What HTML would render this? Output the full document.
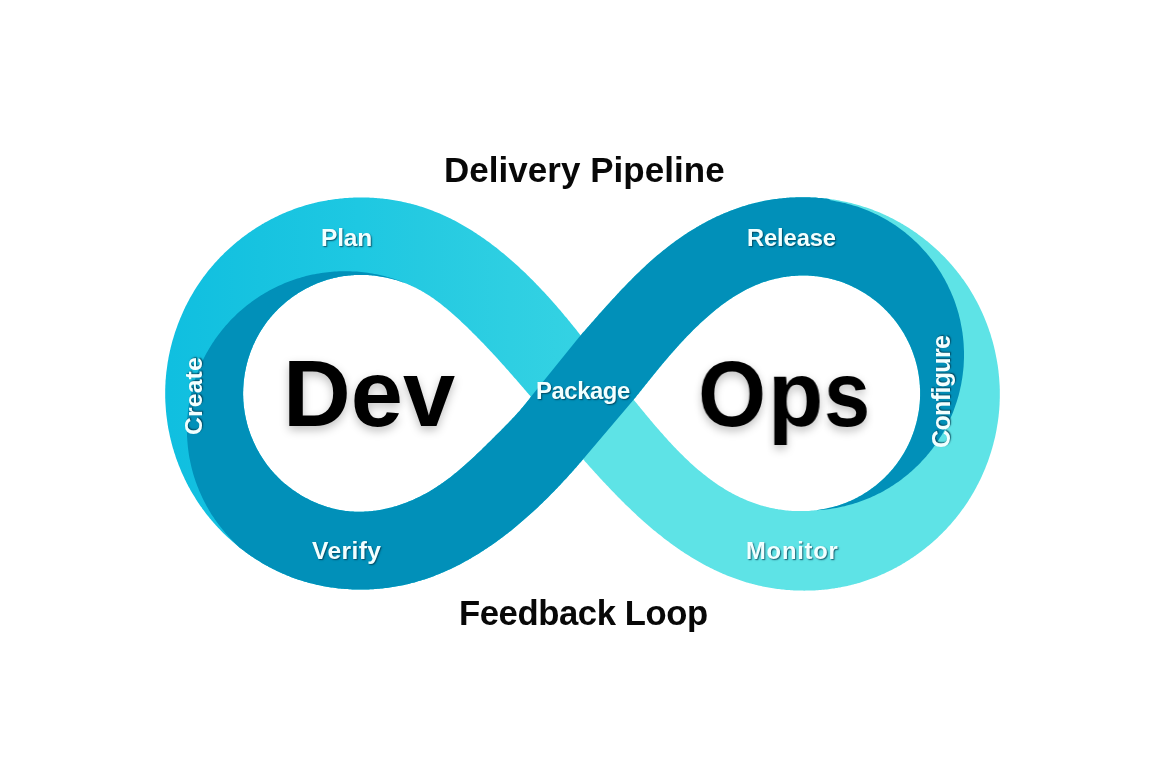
<!DOCTYPE html>
<html><head><meta charset="utf-8">
<style>
html,body{margin:0;padding:0;background:#fff;}
body{width:1152px;height:768px;position:relative;overflow:hidden;font-family:"Liberation Sans",sans-serif;}
svg{position:absolute;left:0;top:0;}
.t{position:absolute;white-space:nowrap;font-weight:bold;line-height:1;will-change:transform;}
.h{color:#080808;}
.big{color:#000;text-shadow:0 4px 10px rgba(0,0,0,0.25);}
.lb{color:#F2FFFF;text-shadow:1px 1px 1.5px rgba(0,55,75,0.8);}
.rot{transform-origin:0 0;transform:rotate(-90deg);}
</style></head><body>
<svg width="1152" height="768" viewBox="0 0 1152 768">
<defs>
<linearGradient id="gl" x1="170" y1="0" x2="580" y2="0" gradientUnits="userSpaceOnUse">
<stop offset="0" stop-color="#10BFE0"/><stop offset="0.22" stop-color="#17C3E0"/><stop offset="0.46" stop-color="#1EC8E2"/><stop offset="0.61" stop-color="#25CAE1"/><stop offset="0.83" stop-color="#2ECFE2"/><stop offset="1" stop-color="#34D2E3"/>
</linearGradient>
</defs>
<path d="M583.1,459.2 L584.1,460.3 L585.0,461.4 L586.0,462.5 L587.0,463.6 L588.0,464.7 L588.9,465.8 L589.9,466.9 L590.9,468.0 L591.9,469.1 L592.9,470.2 L593.9,471.3 L594.9,472.4 L595.9,473.5 L596.9,474.6 L597.9,475.7 L598.9,476.8 L599.9,477.9 L600.9,479.0 L601.9,480.1 L602.9,481.2 L603.9,482.2 L605.0,483.3 L606.0,484.4 L607.0,485.5 L608.1,486.6 L609.1,487.7 L610.1,488.8 L611.2,489.9 L612.2,491.0 L613.2,492.1 L614.3,493.1 L615.3,494.2 L616.4,495.3 L617.5,496.4 L618.5,497.5 L619.6,498.5 L620.6,499.6 L621.7,500.7 L622.8,501.7 L623.9,502.8 L624.9,503.9 L626.0,504.9 L627.1,506.0 L628.2,507.0 L629.3,508.1 L630.4,509.1 L631.5,510.2 L632.6,511.2 L633.7,512.3 L634.8,513.3 L635.9,514.3 L637.0,515.4 L638.1,516.4 L639.2,517.4 L640.4,518.4 L641.5,519.4 L642.6,520.5 L643.7,521.5 L644.9,522.5 L646.0,523.5 L647.2,524.5 L648.3,525.5 L649.5,526.4 L650.6,527.4 L651.8,528.4 L652.9,529.4 L654.1,530.4 L655.3,531.3 L656.4,532.3 L657.6,533.2 L658.8,534.2 L660.0,535.1 L661.2,536.1 L662.4,537.0 L663.5,537.9 L664.7,538.9 L665.9,539.8 L667.2,540.7 L668.4,541.6 L669.6,542.5 L670.8,543.4 L672.0,544.3 L673.2,545.2 L674.5,546.1 L675.7,546.9 L676.9,547.8 L678.2,548.7 L679.4,549.5 L680.7,550.4 L681.9,551.2 L683.2,552.1 L684.4,552.9 L685.7,553.7 L687.0,554.5 L688.2,555.3 L689.5,556.1 L690.8,556.9 L692.1,557.7 L693.4,558.5 L694.7,559.3 L696.0,560.0 L697.3,560.8 L698.6,561.5 L699.9,562.3 L701.2,563.0 L702.5,563.8 L703.8,564.5 L705.2,565.2 L706.5,565.9 L707.8,566.6 L709.2,567.3 L710.5,568.0 L711.8,568.6 L713.2,569.3 L714.5,569.9 L715.9,570.6 L717.3,571.2 L718.6,571.8 L720.0,572.5 L721.4,573.1 L722.7,573.7 L724.1,574.3 L725.5,574.8 L726.9,575.4 L728.3,576.0 L729.7,576.5 L731.1,577.1 L732.5,577.6 L733.9,578.1 L735.3,578.6 L736.7,579.1 L738.1,579.6 L739.5,580.1 L740.9,580.6 L742.4,581.0 L743.8,581.5 L745.2,581.9 L746.7,582.4 L748.1,582.8 L749.5,583.2 L751.0,583.6 L752.4,584.0 L753.9,584.3 L755.3,584.7 L756.8,585.1 L758.2,585.4 L759.7,585.7 L761.2,586.1 L762.6,586.4 L764.1,586.7 L765.6,587.0 L767.1,587.2 L768.5,587.5 L770.0,587.8 L771.5,588.0 L773.0,588.2 L774.4,588.5 L775.9,588.7 L777.4,588.9 L778.9,589.1 L780.4,589.3 L781.9,589.4 L783.4,589.6 L784.9,589.7 L786.4,589.9 L787.9,590.0 L789.4,590.1 L790.8,590.2 L792.3,590.3 L793.8,590.4 L795.3,590.5 L796.8,590.5 L798.3,590.6 L799.8,590.6 L801.3,590.6 L802.8,590.6 L804.3,590.7 L805.8,590.6 L807.3,590.6 L808.8,590.6 L810.3,590.6 L811.8,590.5 L813.3,590.4 L814.8,590.4 L816.3,590.3 L817.8,590.2 L819.3,590.1 L820.8,590.0 L822.3,589.8 L823.8,589.7 L825.3,589.5 L826.8,589.4 L828.3,589.2 L829.7,589.0 L831.2,588.8 L832.7,588.6 L834.2,588.4 L835.7,588.1 L837.2,587.9 L838.6,587.6 L840.1,587.4 L841.6,587.1 L843.0,586.8 L844.5,586.5 L846.0,586.2 L847.4,585.9 L848.9,585.5 L850.4,585.2 L851.8,584.8 L853.3,584.5 L854.7,584.1 L856.2,583.7 L857.6,583.3 L859.0,582.9 L860.5,582.4 L861.9,582.0 L863.3,581.5 L864.8,581.1 L866.2,580.6 L867.6,580.1 L869.0,579.6 L870.4,579.1 L871.9,578.6 L873.3,578.1 L874.7,577.5 L876.1,577.0 L877.4,576.4 L878.8,575.8 L880.2,575.2 L881.6,574.6 L883.0,574.0 L884.3,573.4 L885.7,572.8 L887.1,572.1 L888.4,571.5 L889.8,570.8 L891.1,570.2 L892.5,569.5 L893.8,568.8 L895.1,568.1 L896.5,567.4 L897.8,566.6 L899.1,565.9 L900.4,565.2 L901.7,564.4 L903.0,563.6 L904.3,562.9 L905.6,562.1 L906.9,561.3 L908.1,560.5 L909.4,559.7 L910.7,558.8 L911.9,558.0 L913.2,557.2 L914.4,556.3 L915.7,555.5 L916.9,554.6 L918.1,553.7 L919.3,552.8 L920.5,551.9 L921.8,551.0 L923.0,550.1 L924.1,549.2 L925.3,548.2 L926.5,547.3 L927.7,546.3 L928.8,545.4 L930.0,544.4 L931.1,543.4 L932.3,542.4 L933.4,541.4 L934.5,540.4 L935.7,539.4 L936.8,538.4 L937.9,537.4 L939.0,536.3 L940.1,535.3 L941.1,534.2 L942.2,533.2 L943.3,532.1 L944.3,531.0 L945.4,529.9 L946.4,528.9 L947.4,527.7 L948.5,526.6 L949.5,525.5 L950.5,524.4 L951.5,523.3 L952.5,522.1 L953.4,521.0 L954.4,519.8 L955.4,518.7 L956.3,517.5 L957.3,516.3 L958.2,515.1 L959.1,513.9 L960.0,512.7 L960.9,511.5 L961.8,510.3 L962.7,509.1 L963.6,507.9 L964.4,506.7 L965.3,505.4 L966.1,504.2 L967.0,502.9 L967.8,501.7 L968.6,500.4 L969.4,499.1 L970.2,497.9 L971.0,496.6 L971.8,495.3 L972.5,494.0 L973.3,492.7 L974.0,491.4 L974.8,490.1 L975.5,488.8 L976.2,487.4 L976.9,486.1 L977.6,484.8 L978.3,483.4 L979.0,482.1 L979.7,480.7 L980.3,479.4 L981.0,478.0 L981.6,476.7 L982.2,475.3 L982.8,473.9 L983.4,472.6 L984.0,471.2 L984.6,469.8 L985.2,468.4 L985.7,467.0 L986.3,465.6 L986.8,464.2 L987.4,462.8 L987.9,461.4 L988.4,460.0 L988.9,458.6 L989.4,457.1 L989.8,455.7 L990.3,454.3 L990.8,452.8 L991.2,451.4 L991.6,450.0 L992.1,448.5 L992.5,447.1 L992.9,445.6 L993.3,444.2 L993.6,442.7 L994.0,441.3 L994.4,439.8 L994.7,438.4 L995.1,436.9 L995.4,435.4 L995.7,434.0 L996.0,432.5 L996.3,431.0 L996.6,429.5 L996.8,428.1 L997.1,426.6 L997.3,425.1 L997.6,423.6 L997.8,422.1 L998.0,420.7 L998.2,419.2 L998.4,417.7 L998.6,416.2 L998.7,414.7 L998.9,413.2 L999.0,411.7 L999.2,410.2 L999.3,408.7 L999.4,407.2 L999.5,405.7 L999.6,404.2 L999.6,402.7 L999.7,401.2 L999.7,399.7 L999.8,398.2 L999.8,396.7 L999.8,395.2 L999.8,393.7 L999.8,392.2 L999.8,390.7 L999.8,389.2 L999.7,387.7 L999.7,386.2 L999.6,384.7 L999.5,383.2 L999.4,381.7 L999.3,380.2 L999.2,378.7 L999.1,377.2 L998.9,375.7 L998.8,374.2 L998.6,372.7 L998.5,371.3 L998.3,369.8 L998.1,368.3 L997.9,366.8 L997.7,365.3 L997.4,363.8 L997.2,362.3 L996.9,360.8 L996.7,359.4 L996.4,357.9 L996.1,356.4 L995.8,354.9 L995.5,353.5 L995.2,352.0 L994.9,350.5 L994.5,349.1 L994.2,347.6 L993.8,346.1 L993.5,344.7 L993.1,343.2 L992.7,341.8 L992.3,340.3 L991.9,338.9 L991.4,337.4 L991.0,336.0 L990.6,334.6 L990.1,333.1 L989.6,331.7 L989.1,330.3 L988.7,328.9 L988.2,327.4 L987.6,326.0 L987.1,324.6 L986.6,323.2 L986.0,321.8 L985.5,320.4 L984.9,319.0 L984.3,317.6 L983.8,316.2 L983.2,314.9 L982.6,313.5 L981.9,312.1 L981.3,310.7 L980.7,309.4 L980.0,308.0 L979.4,306.7 L978.7,305.3 L978.0,304.0 L977.3,302.6 L976.6,301.3 L975.9,300.0 L975.2,298.7 L974.5,297.4 L973.7,296.0 L973.0,294.7 L972.2,293.4 L971.5,292.2 L970.7,290.9 L969.9,289.6 L969.1,288.3 L968.3,287.1 L967.5,285.8 L966.6,284.5 L965.8,283.3 L964.9,282.1 L964.1,280.8 L963.2,279.6 L962.3,278.4 L961.4,277.2 L960.6,276.0 L959.6,274.8 L958.7,273.6 L957.8,272.4 L956.9,271.2 L955.9,270.0 L955.0,268.9 L954.0,267.7 L953.0,266.6 L952.1,265.4 L951.1,264.3 L950.1,263.2 L949.1,262.0 L948.1,260.9 L947.0,259.8 L946.0,258.7 L945.0,257.6 L943.9,256.5 L942.9,255.5 L941.8,254.4 L940.7,253.4 L939.7,252.3 L938.6,251.3 L937.5,250.2 L936.4,249.2 L935.3,248.2 L934.1,247.2 L933.0,246.2 L931.9,245.2 L930.7,244.2 L929.6,243.2 L928.4,242.3 L927.3,241.3 L926.1,240.4 L924.9,239.4 L923.7,238.5 L922.5,237.6 L921.3,236.7 L920.1,235.8 L918.9,234.9 L917.7,234.0 L916.5,233.1 L915.3,232.3 L914.0,231.4 L912.8,230.6 L911.5,229.7 L910.3,228.9 L909.0,228.1 L907.7,227.3 L906.5,226.5 L905.2,225.7 L903.9,224.9 L902.6,224.1 L901.3,223.4 L900.0,222.6 L898.7,221.9 L897.4,221.2 L896.0,220.4 L894.7,219.7 L893.4,219.0 L892.0,218.3 L890.7,217.7 L889.3,217.0 L888.0,216.3 L886.6,215.7 L885.3,215.1 L883.9,214.4 L882.5,213.8 L881.2,213.2 L879.8,212.6 L878.4,212.1 L877.0,211.5 L875.6,210.9 L874.2,210.4 L872.8,209.8 L871.4,209.3 L870.0,208.8 L868.6,208.3 L867.1,207.8 L865.7,207.3 L864.3,206.9 L862.8,206.4 L861.4,206.0 L860.0,205.5 L858.5,205.1 L857.1,204.7 L855.6,204.3 L854.2,203.9 L852.7,203.5 L851.3,203.1 L849.8,202.8 L848.3,202.4 L846.9,202.1 L845.4,201.8 L843.9,201.5 L842.5,201.2 L841.0,200.9 L839.5,200.6 L838.0,200.3 L836.5,200.1 L835.1,199.8 L833.6,199.6 L832.1,199.4 L830.6,199.1 L829.1,198.9 L827.6,198.8 L826.1,198.6 L824.6,198.4 L823.1,198.3 L821.6,198.1 L820.1,198.0 L818.6,197.9 L817.1,197.7 L815.6,197.6 L814.1,197.6 L812.6,197.5 L811.1,197.4 L809.6,197.3 L808.1,197.3 L806.6,197.3 L805.1,197.2 L803.6,197.2 L802.1,197.2 L800.6,197.2 L799.1,197.3 L797.6,197.3 L796.1,197.3 L794.6,197.4 L793.1,197.5 L791.6,197.5 L790.1,197.6 L788.6,197.7 L787.1,197.8 L785.6,198.0 L784.1,198.1 L782.6,198.2 L781.1,198.4 L779.6,198.6 L778.1,198.7 L776.6,198.9 L775.2,199.1 L773.7,199.3 L772.2,199.6 L770.7,199.8 L769.2,200.0 L767.8,200.3 L766.3,200.6 L764.8,200.8 L763.3,201.1 L761.9,201.4 L760.4,201.7 L759.0,202.1 L757.5,202.4 L756.1,202.7 L754.6,203.1 L753.2,203.5 L751.7,203.8 L750.3,204.2 L748.8,204.6 L747.4,205.0 L746.0,205.5 L744.5,205.9 L743.1,206.3 L741.7,206.8 L740.3,207.2 L738.9,207.7 L737.5,208.2 L736.1,208.7 L734.7,209.2 L733.3,209.7 L731.9,210.2 L730.5,210.8 L729.1,211.3 L727.7,211.9 L726.3,212.4 L724.9,213.0 L723.6,213.6 L722.2,214.2 L720.8,214.8 L719.5,215.4 L718.1,216.0 L716.7,216.6 L715.4,217.3 L714.0,217.9 L712.7,218.6 L711.4,219.2 L710.0,219.9 L708.7,220.6 L707.4,221.3 L706.0,222.0 L704.7,222.7 L703.4,223.4 L702.1,224.1 L700.8,224.9 L699.5,225.6 L698.2,226.4 L696.9,227.1 L695.6,227.9 L694.3,228.7 L693.0,229.4 L691.7,230.2 L690.5,231.0 L689.2,231.8 L687.9,232.6 L686.7,233.5 L685.4,234.3 L684.2,235.1 L682.9,236.0 L681.7,236.8 L680.4,237.7 L679.2,238.5 L677.9,239.4 L676.7,240.3 L675.5,241.1 L674.3,242.0 L673.1,242.9 L671.9,243.8 L670.6,244.7 L669.4,245.7 L668.3,246.6 L667.1,247.5 L665.9,248.4 L664.7,249.4 L663.5,250.3 L662.3,251.3 L661.2,252.2 L660.0,253.2 L658.8,254.2 L657.7,255.1 L656.5,256.1 L655.4,257.1 L654.2,258.1 L653.1,259.1 L652.0,260.1 L650.8,261.1 L649.7,262.1 L648.6,263.1 L647.5,264.1 L646.3,265.1 L645.2,266.2 L644.1,267.2 L643.0,268.2 L641.9,269.3 L640.8,270.3 L639.7,271.4 L638.6,272.4 L637.5,273.5 L636.4,274.5 L635.4,275.6 L634.3,276.6 L633.2,277.7 L632.1,278.8 L631.1,279.9 L630.0,280.9 L628.9,282.0 L627.9,283.1 L626.8,284.2 L625.8,285.3 L624.7,286.4 L623.7,287.4 L622.6,288.5 L621.6,289.6 L620.5,290.7 L619.5,291.8 L618.5,292.9 L617.4,294.0 L616.4,295.2 L615.4,296.3 L614.4,297.4 L613.3,298.5 L612.3,299.6 L611.3,300.7 L610.3,301.8 L609.3,302.9 L608.3,304.1 L607.2,305.2 L606.2,306.3 L605.2,307.4 L604.2,308.5 L603.2,309.7 L602.2,310.8 L601.2,311.9 L600.2,313.0 L599.2,314.1 L598.2,315.3 L597.2,316.4 L596.3,317.5 L595.3,318.6 L594.3,319.7 L593.3,320.9 L592.3,322.0 L591.3,323.1 L590.4,324.2 L589.4,325.3 L588.4,326.4 L587.4,327.5 L586.4,328.7 L585.5,329.8 L584.5,330.9 L583.5,332.0 L582.5,333.1 L581.6,334.2 L580.6,335.3 L600.0,400.0 Z" fill="#5EE3E6"/>
<path d="M580.6,335.3 L579.7,334.2 L578.8,333.0 L577.9,331.9 L577.0,330.7 L576.1,329.6 L575.2,328.4 L574.2,327.3 L573.3,326.2 L572.4,325.0 L571.5,323.9 L570.5,322.7 L569.6,321.6 L568.6,320.4 L567.7,319.3 L566.8,318.1 L565.8,317.0 L564.8,315.9 L563.9,314.7 L562.9,313.6 L562.0,312.4 L561.0,311.3 L560.0,310.1 L559.0,309.0 L558.1,307.9 L557.1,306.7 L556.1,305.6 L555.1,304.5 L554.1,303.3 L553.1,302.2 L552.1,301.1 L551.1,300.0 L550.1,298.8 L549.1,297.7 L548.1,296.6 L547.0,295.5 L546.0,294.3 L545.0,293.2 L544.0,292.1 L542.9,291.0 L541.9,289.9 L540.8,288.8 L539.8,287.7 L538.7,286.6 L537.7,285.5 L536.6,284.4 L535.6,283.3 L534.5,282.2 L533.4,281.1 L532.4,280.1 L531.3,279.0 L530.2,277.9 L529.1,276.8 L528.0,275.8 L527.0,274.7 L525.9,273.6 L524.8,272.6 L523.7,271.5 L522.6,270.5 L521.4,269.4 L520.3,268.4 L519.2,267.3 L518.1,266.3 L517.0,265.3 L515.8,264.3 L514.7,263.2 L513.6,262.2 L512.4,261.2 L511.3,260.2 L510.1,259.2 L509.0,258.2 L507.8,257.2 L506.7,256.2 L505.5,255.3 L504.4,254.3 L503.2,253.3 L502.0,252.4 L500.8,251.4 L499.6,250.4 L498.5,249.5 L497.3,248.6 L496.1,247.6 L494.9,246.7 L493.7,245.8 L492.5,244.9 L491.3,243.9 L490.1,243.0 L488.8,242.1 L487.6,241.3 L486.4,240.4 L485.2,239.5 L483.9,238.6 L482.7,237.8 L481.5,236.9 L480.2,236.0 L479.0,235.2 L477.7,234.4 L476.5,233.5 L475.2,232.7 L474.0,231.9 L472.7,231.1 L471.4,230.3 L470.2,229.5 L468.9,228.7 L467.6,227.9 L466.3,227.2 L465.0,226.4 L463.7,225.7 L462.4,224.9 L461.1,224.2 L459.8,223.5 L458.5,222.7 L457.2,222.0 L455.9,221.3 L454.6,220.6 L453.3,220.0 L451.9,219.3 L450.6,218.6 L449.3,218.0 L447.9,217.3 L446.6,216.7 L445.2,216.0 L443.9,215.4 L442.5,214.8 L441.2,214.2 L439.8,213.6 L438.4,213.0 L437.1,212.5 L435.7,211.9 L434.3,211.4 L432.9,210.8 L431.5,210.3 L430.1,209.8 L428.7,209.2 L427.3,208.7 L425.9,208.3 L424.5,207.8 L423.1,207.3 L421.7,206.8 L420.3,206.4 L418.9,206.0 L417.4,205.5 L416.0,205.1 L414.6,204.7 L413.1,204.3 L411.7,203.9 L410.3,203.6 L408.8,203.2 L407.4,202.9 L405.9,202.5 L404.4,202.2 L403.0,201.9 L401.5,201.6 L400.1,201.3 L398.6,201.0 L397.1,200.7 L395.6,200.5 L394.2,200.2 L392.7,200.0 L391.2,199.7 L389.7,199.5 L388.2,199.3 L386.7,199.1 L385.3,198.9 L383.8,198.8 L382.3,198.6 L380.8,198.4 L379.3,198.3 L377.8,198.2 L376.3,198.0 L374.8,197.9 L373.3,197.8 L371.8,197.8 L370.3,197.7 L368.8,197.6 L367.3,197.6 L365.8,197.5 L364.3,197.5 L362.8,197.5 L361.3,197.5 L359.8,197.5 L358.3,197.5 L356.8,197.5 L355.3,197.6 L353.8,197.6 L352.3,197.7 L350.8,197.7 L349.3,197.8 L347.8,197.9 L346.3,198.0 L344.8,198.1 L343.3,198.3 L341.8,198.4 L340.3,198.5 L338.8,198.7 L337.3,198.9 L335.8,199.1 L334.3,199.3 L332.8,199.5 L331.3,199.7 L329.8,199.9 L328.3,200.1 L326.9,200.4 L325.4,200.7 L323.9,200.9 L322.4,201.2 L320.9,201.5 L319.5,201.8 L318.0,202.1 L316.5,202.5 L315.1,202.8 L313.6,203.2 L312.2,203.5 L310.7,203.9 L309.2,204.3 L307.8,204.7 L306.4,205.1 L304.9,205.5 L303.5,206.0 L302.0,206.4 L300.6,206.9 L299.2,207.3 L297.8,207.8 L296.3,208.3 L294.9,208.8 L293.5,209.3 L292.1,209.9 L290.7,210.4 L289.3,210.9 L287.9,211.5 L286.5,212.1 L285.1,212.7 L283.7,213.2 L282.4,213.8 L281.0,214.5 L279.6,215.1 L278.3,215.7 L276.9,216.4 L275.5,217.0 L274.2,217.7 L272.8,218.4 L271.5,219.0 L270.2,219.7 L268.9,220.4 L267.5,221.2 L266.2,221.9 L264.9,222.6 L263.6,223.4 L262.3,224.1 L261.0,224.9 L259.7,225.7 L258.4,226.5 L257.2,227.3 L255.9,228.1 L254.6,228.9 L253.4,229.7 L252.1,230.5 L250.9,231.4 L249.6,232.2 L248.4,233.1 L247.2,234.0 L245.9,234.9 L244.7,235.8 L243.5,236.7 L242.3,237.6 L241.1,238.5 L240.0,239.4 L238.8,240.4 L237.6,241.3 L236.4,242.3 L235.3,243.2 L234.1,244.2 L233.0,245.2 L231.9,246.2 L230.7,247.2 L229.6,248.2 L228.5,249.2 L227.4,250.2 L226.3,251.2 L225.2,252.3 L224.1,253.3 L223.1,254.4 L222.0,255.4 L220.9,256.5 L219.9,257.6 L218.9,258.7 L217.8,259.8 L216.8,260.9 L215.8,262.0 L214.8,263.1 L213.8,264.2 L212.8,265.4 L211.8,266.5 L210.9,267.7 L209.9,268.8 L208.9,270.0 L208.0,271.1 L207.1,272.3 L206.2,273.5 L205.2,274.7 L204.3,275.9 L203.4,277.1 L202.6,278.3 L201.7,279.5 L200.8,280.8 L200.0,282.0 L199.1,283.3 L198.3,284.5 L197.4,285.8 L196.6,287.0 L195.8,288.3 L195.0,289.6 L194.2,290.8 L193.5,292.1 L192.7,293.4 L191.9,294.7 L191.2,296.0 L190.4,297.3 L189.7,298.6 L189.0,300.0 L188.3,301.3 L187.6,302.6 L186.9,303.9 L186.2,305.3 L185.5,306.6 L184.9,308.0 L184.2,309.3 L183.6,310.7 L183.0,312.1 L182.4,313.4 L181.8,314.8 L181.2,316.2 L180.6,317.6 L180.0,319.0 L179.4,320.4 L178.9,321.8 L178.3,323.2 L177.8,324.6 L177.3,326.0 L176.8,327.4 L176.3,328.8 L175.8,330.2 L175.3,331.6 L174.8,333.1 L174.4,334.5 L173.9,335.9 L173.5,337.4 L173.1,338.8 L172.6,340.3 L172.2,341.7 L171.8,343.2 L171.5,344.6 L171.1,346.1 L170.7,347.5 L170.4,349.0 L170.0,350.4 L169.7,351.9 L169.4,353.4 L169.1,354.8 L168.8,356.3 L168.5,357.8 L168.3,359.3 L168.0,360.7 L167.7,362.2 L167.5,363.7 L167.3,365.2 L167.1,366.7 L166.9,368.2 L166.7,369.7 L166.5,371.1 L166.3,372.6 L166.2,374.1 L166.0,375.6 L165.9,377.1 L165.8,378.6 L165.6,380.1 L165.5,381.6 L165.5,383.1 L165.4,384.6 L165.3,386.1 L165.3,387.6 L165.2,389.1 L165.2,390.6 L165.2,392.1 L165.2,393.6 L165.2,395.1 L165.2,396.6 L165.2,398.1 L165.3,399.6 L165.3,401.1 L165.4,402.6 L165.5,404.1 L165.6,405.6 L165.7,407.1 L165.8,408.6 L165.9,410.1 L166.0,411.6 L166.2,413.1 L166.3,414.5 L166.5,416.0 L166.7,417.5 L166.9,419.0 L167.1,420.5 L167.3,422.0 L167.5,423.5 L167.7,424.9 L168.0,426.4 L168.2,427.9 L168.5,429.4 L168.8,430.9 L169.1,432.3 L169.4,433.8 L169.7,435.3 L170.0,436.7 L170.4,438.2 L170.7,439.7 L171.1,441.1 L171.4,442.6 L171.8,444.0 L172.2,445.5 L172.6,446.9 L173.0,448.4 L173.5,449.8 L173.9,451.2 L174.3,452.7 L174.8,454.1 L175.3,455.5 L175.7,457.0 L176.2,458.4 L176.7,459.8 L177.2,461.2 L177.8,462.6 L178.3,464.0 L178.8,465.4 L179.4,466.8 L180.0,468.2 L180.5,469.6 L181.1,471.0 L181.7,472.4 L182.3,473.7 L182.9,475.1 L183.6,476.5 L184.2,477.8 L184.8,479.2 L185.5,480.5 L186.2,481.9 L186.8,483.2 L187.5,484.6 L188.2,485.9 L188.9,487.2 L189.7,488.5 L190.4,489.9 L191.1,491.2 L191.9,492.5 L192.6,493.8 L193.4,495.1 L194.2,496.3 L195.0,497.6 L195.8,498.9 L196.6,500.2 L197.4,501.4 L198.2,502.7 L199.1,503.9 L199.9,505.2 L200.8,506.4 L201.7,507.6 L202.5,508.9 L203.4,510.1 L204.3,511.3 L205.2,512.5 L206.1,513.7 L207.1,514.9 L208.0,516.0 L209.0,517.2 L209.9,518.4 L210.9,519.5 L211.8,520.7 L212.8,521.8 L213.8,523.0 L214.8,524.1 L215.8,525.2 L216.8,526.3 L217.9,527.4 L218.9,528.5 L219.9,529.6 L221.0,530.7 L222.0,531.8 L223.1,532.9 L224.2,533.9 L225.3,535.0 L226.3,536.0 L227.4,537.0 L228.5,538.1 L229.7,539.1 L230.8,540.1 L231.9,541.1 L233.0,542.1 L234.2,543.1 L235.3,544.0 L236.5,545.0 L237.7,546.0 L238.8,546.9 L240.0,547.9 L241.2,548.8 L242.4,549.7 L243.6,550.6 L244.8,551.5 L246.0,552.4 L247.2,553.3 L248.4,554.2 L249.7,555.0 L250.9,555.9 L252.2,556.7 L253.4,557.6 L254.7,558.4 L255.9,559.2 L257.2,560.0 L258.5,560.8 L259.8,561.6 L261.1,562.4 L262.3,563.2 L263.6,563.9 L265.0,564.7 L266.3,565.4 L267.6,566.1 L268.9,566.9 L270.2,567.6 L271.6,568.3 L272.9,568.9 L274.2,569.6 L275.6,570.3 L276.9,570.9 L278.3,571.6 L279.7,572.2 L281.0,572.8 L282.4,573.4 L283.8,574.0 L285.2,574.6 L286.5,575.2 L287.9,575.8 L289.3,576.3 L290.7,576.9 L292.1,577.4 L293.5,577.9 L294.9,578.4 L296.4,578.9 L297.8,579.4 L299.2,579.9 L300.6,580.3 L302.1,580.8 L303.5,581.2 L304.9,581.7 L306.4,582.1 L307.8,582.5 L309.3,582.9 L310.7,583.3 L312.2,583.6 L313.6,584.0 L315.1,584.3 L316.5,584.7 L318.0,585.0 L319.5,585.3 L320.9,585.6 L322.4,585.9 L323.9,586.2 L325.4,586.4 L326.8,586.7 L328.3,587.0 L329.8,587.2 L331.3,587.4 L332.8,587.6 L334.2,587.8 L335.7,588.0 L337.2,588.2 L338.7,588.4 L340.2,588.5 L341.7,588.7 L343.2,588.8 L344.7,588.9 L346.2,589.0 L347.7,589.1 L349.2,589.2 L350.7,589.3 L352.2,589.4 L353.7,589.4 L355.2,589.5 L356.7,589.5 L358.2,589.5 L359.7,589.5 L361.2,589.5 L362.7,589.5 L364.2,589.5 L365.7,589.5 L367.2,589.4 L368.7,589.4 L370.2,589.3 L371.7,589.2 L373.2,589.2 L374.7,589.1 L376.1,589.0 L377.6,588.8 L379.1,588.7 L380.6,588.6 L382.1,588.4 L383.6,588.3 L385.1,588.1 L386.6,587.9 L388.1,587.7 L389.5,587.5 L391.0,587.3 L392.5,587.1 L394.0,586.8 L395.5,586.6 L396.9,586.3 L398.4,586.0 L399.9,585.8 L401.3,585.5 L402.8,585.2 L404.3,584.9 L405.7,584.5 L407.2,584.2 L408.6,583.9 L410.1,583.5 L411.5,583.1 L413.0,582.8 L414.4,582.4 L415.9,582.0 L417.3,581.6 L418.7,581.1 L420.1,580.7 L421.6,580.3 L423.0,579.8 L424.4,579.4 L425.8,578.9 L427.2,578.4 L428.6,577.9 L430.1,577.4 L431.5,576.9 L432.9,576.4 L434.3,575.9 L435.6,575.3 L437.0,574.8 L438.4,574.2 L439.8,573.7 L441.2,573.1 L442.6,572.5 L443.9,571.9 L445.3,571.3 L446.7,570.7 L448.0,570.1 L449.4,569.5 L450.7,568.9 L452.1,568.2 L453.5,567.6 L454.8,566.9 L456.1,566.2 L457.5,565.6 L458.8,564.9 L460.2,564.2 L461.5,563.5 L462.8,562.8 L464.1,562.1 L465.4,561.3 L466.8,560.6 L468.1,559.9 L469.4,559.1 L470.7,558.4 L472.0,557.6 L473.3,556.8 L474.6,556.1 L475.9,555.3 L477.2,554.5 L478.5,553.7 L479.7,552.9 L481.0,552.1 L482.3,551.3 L483.6,550.5 L484.8,549.6 L486.1,548.8 L487.4,548.0 L488.6,547.1 L489.9,546.3 L491.1,545.4 L492.4,544.5 L493.6,543.7 L494.9,542.8 L496.1,541.9 L497.3,541.0 L498.6,540.1 L499.8,539.2 L501.0,538.3 L502.2,537.4 L503.4,536.5 L504.7,535.6 L505.9,534.6 L507.1,533.7 L508.3,532.8 L509.5,531.8 L510.7,530.9 L511.9,529.9 L513.0,529.0 L514.2,528.0 L515.4,527.0 L516.6,526.1 L517.8,525.1 L518.9,524.1 L520.1,523.1 L521.2,522.1 L522.4,521.1 L523.6,520.1 L524.7,519.1 L525.9,518.1 L527.0,517.1 L528.1,516.1 L529.3,515.1 L530.4,514.1 L531.5,513.1 L532.7,512.0 L533.8,511.0 L534.9,510.0 L536.0,508.9 L537.1,507.9 L538.2,506.9 L539.3,505.8 L540.4,504.8 L541.5,503.7 L542.6,502.7 L543.7,501.6 L544.8,500.5 L545.9,499.5 L546.9,498.4 L548.0,497.4 L549.1,496.3 L550.1,495.2 L551.2,494.1 L552.3,493.1 L553.3,492.0 L554.4,490.9 L555.4,489.8 L556.5,488.8 L557.5,487.7 L558.5,486.6 L559.6,485.5 L560.6,484.4 L561.6,483.3 L562.6,482.2 L563.6,481.1 L564.6,480.1 L565.7,479.0 L566.7,477.9 L567.7,476.8 L568.6,475.7 L569.6,474.6 L570.6,473.5 L571.6,472.4 L572.6,471.3 L573.6,470.2 L574.5,469.1 L575.5,468.0 L576.5,466.9 L577.4,465.8 L578.4,464.7 L579.3,463.6 L580.3,462.5 L581.2,461.4 L582.2,460.3 L583.1,459.2 L540.0,420.0 Z" fill="url(#gl)"/>
<path d="M530.9,396.8 L529.9,395.6 L528.9,394.5 L527.9,393.3 L526.9,392.2 L526.0,391.1 L525.0,389.9 L524.0,388.8 L523.0,387.6 L522.0,386.5 L521.0,385.3 L520.0,384.2 L519.1,383.1 L518.1,381.9 L517.1,380.8 L516.1,379.6 L515.1,378.5 L514.1,377.4 L513.1,376.2 L512.1,375.1 L511.1,374.0 L510.2,372.9 L509.2,371.7 L508.2,370.6 L507.2,369.5 L506.2,368.4 L505.2,367.2 L504.2,366.1 L503.2,365.0 L502.2,363.9 L501.2,362.8 L500.2,361.7 L499.2,360.6 L498.2,359.5 L497.2,358.3 L496.2,357.2 L495.1,356.1 L494.1,355.0 L493.1,353.9 L492.1,352.8 L491.1,351.7 L490.1,350.7 L489.0,349.6 L488.0,348.5 L487.0,347.4 L486.0,346.3 L484.9,345.2 L483.9,344.1 L482.9,343.0 L481.8,342.0 L480.8,340.9 L479.7,339.8 L478.7,338.7 L477.6,337.7 L476.6,336.6 L475.5,335.5 L474.5,334.5 L473.4,333.4 L472.3,332.4 L471.3,331.3 L470.2,330.2 L469.1,329.2 L468.0,328.1 L467.0,327.1 L465.9,326.0 L464.8,325.0 L463.7,324.0 L462.6,322.9 L461.5,321.9 L460.4,320.8 L459.3,319.8 L458.2,318.8 L457.1,317.8 L455.9,316.7 L454.8,315.7 L453.7,314.7 L452.5,313.7 L451.4,312.7 L450.3,311.7 L449.1,310.7 L447.9,309.8 L446.8,308.8 L445.6,307.8 L444.4,306.9 L443.3,305.9 L442.1,305.0 L440.9,304.0 L439.7,303.1 L438.5,302.2 L437.3,301.3 L436.1,300.4 L434.8,299.5 L433.6,298.6 L432.4,297.8 L431.1,296.9 L429.9,296.1 L428.6,295.3 L427.4,294.5 L426.1,293.7 L424.8,292.9 L423.5,292.1 L422.2,291.4 L420.9,290.6 L419.6,289.9 L418.3,289.2 L416.9,288.5 L415.6,287.8 L414.3,287.2 L412.9,286.5 L411.5,285.9 L410.2,285.3 L408.8,284.7 L407.4,284.1 L406.0,283.6 L404.6,283.0 L403.2,282.5 L401.8,282.0 L400.4,281.5 L398.9,281.0 L397.5,280.6 L396.1,280.1 L394.6,279.7 L393.2,279.3 L391.7,278.9 L390.3,278.5 L388.8,278.2 L387.3,277.8 L385.9,277.5 L384.4,277.2 L382.9,276.9 L381.4,276.7 L379.9,276.4 L378.5,276.2 L377.0,276.0 L375.5,275.8 L374.0,275.6 L372.5,275.5 L371.0,275.3 L369.5,275.2 L368.0,275.1 L366.5,275.0 L365.0,275.0 L363.5,274.9 L362.0,274.9 L360.5,274.9 L359.0,274.9 L357.5,274.9 L356.0,275.0 L354.5,275.1 L353.0,275.2 L351.5,275.3 L350.0,275.4 L348.5,275.5 L347.0,275.7 L345.5,275.9 L344.0,276.1 L342.6,276.3 L341.1,276.5 L339.6,276.8 L338.1,277.1 L336.7,277.4 L335.2,277.7 L333.7,278.0 L332.3,278.4 L330.8,278.8 L329.4,279.2 L327.9,279.6 L326.5,280.0 L325.1,280.5 L323.6,280.9 L322.2,281.4 L320.8,282.0 L319.4,282.5 L318.0,283.0 L316.6,283.6 L315.2,284.2 L313.8,284.8 L312.5,285.4 L311.1,286.0 L309.8,286.7 L308.4,287.4 L307.1,288.1 L305.7,288.8 L304.4,289.5 L303.1,290.2 L301.8,291.0 L300.5,291.7 L299.2,292.5 L297.9,293.3 L296.7,294.2 L295.4,295.0 L294.2,295.8 L292.9,296.7 L291.7,297.6 L290.5,298.5 L289.3,299.4 L288.1,300.3 L286.9,301.3 L285.7,302.2 L284.6,303.2 L283.5,304.2 L282.3,305.2 L281.2,306.2 L280.1,307.2 L279.0,308.3 L277.9,309.3 L276.9,310.4 L275.8,311.5 L274.8,312.6 L273.8,313.7 L272.7,314.8 L271.8,315.9 L270.8,317.1 L269.8,318.3 L268.9,319.4 L267.9,320.6 L267.0,321.8 L266.1,323.0 L265.2,324.2 L264.4,325.5 L263.5,326.7 L262.7,328.0 L261.9,329.2 L261.0,330.5 L260.3,331.8 L259.5,333.1 L258.7,334.4 L258.0,335.7 L257.3,337.0 L256.6,338.3 L255.9,339.7 L255.2,341.0 L254.6,342.4 L254.0,343.8 L253.3,345.1 L252.7,346.5 L252.2,347.9 L251.6,349.3 L251.0,350.7 L250.5,352.1 L250.0,353.5 L249.5,355.0 L249.0,356.4 L248.6,357.8 L248.1,359.3 L247.7,360.7 L247.3,362.2 L246.9,363.6 L246.6,365.1 L246.2,366.6 L245.9,368.0 L245.6,369.5 L245.3,371.0 L245.0,372.5 L244.7,373.9 L244.5,375.4 L244.3,376.9 L244.1,378.4 L243.9,379.9 L243.7,381.4 L243.6,382.9 L243.5,384.4 L243.4,385.9 L243.3,387.4 L243.2,388.9 L243.2,390.4 L243.1,391.9 L243.1,393.4 L243.1,394.9 L243.2,396.4 L243.2,397.9 L243.3,399.4 L243.3,400.9 L243.5,402.4 L243.6,403.9 L243.7,405.4 L243.9,406.9 L244.1,408.3 L244.3,409.8 L244.5,411.3 L244.7,412.8 L245.0,414.3 L245.3,415.7 L245.6,417.2 L245.9,418.7 L246.2,420.1 L246.6,421.6 L246.9,423.0 L247.3,424.5 L247.7,425.9 L248.1,427.4 L248.6,428.8 L249.0,430.2 L249.5,431.6 L250.0,433.1 L250.5,434.5 L251.1,435.9 L251.6,437.3 L252.2,438.6 L252.8,440.0 L253.4,441.4 L254.0,442.8 L254.6,444.1 L255.3,445.5 L255.9,446.8 L256.6,448.2 L257.3,449.5 L258.0,450.8 L258.8,452.1 L259.5,453.4 L260.3,454.7 L261.1,456.0 L261.9,457.3 L262.7,458.5 L263.5,459.8 L264.4,461.0 L265.2,462.3 L266.1,463.5 L267.0,464.7 L267.9,465.9 L268.8,467.1 L269.8,468.2 L270.7,469.4 L271.7,470.6 L272.7,471.7 L273.7,472.8 L274.7,473.9 L275.8,475.0 L276.8,476.1 L277.9,477.2 L278.9,478.3 L280.0,479.3 L281.1,480.4 L282.3,481.4 L283.4,482.4 L284.5,483.4 L285.7,484.3 L286.9,485.3 L288.1,486.3 L289.3,487.2 L290.5,488.1 L291.7,489.0 L292.9,489.9 L294.2,490.8 L295.4,491.6 L296.7,492.5 L297.9,493.3 L299.2,494.1 L300.5,494.9 L301.8,495.7 L303.1,496.5 L304.5,497.2 L305.8,497.9 L307.1,498.6 L308.5,499.3 L309.8,500.0 L311.2,500.7 L312.6,501.3 L314.0,501.9 L315.3,502.5 L316.7,503.1 L318.1,503.7 L319.5,504.3 L321.0,504.8 L322.4,505.3 L323.8,505.8 L325.2,506.3 L326.7,506.7 L328.1,507.2 L329.6,507.6 L331.0,508.0 L332.5,508.4 L333.9,508.8 L335.4,509.1 L336.8,509.4 L338.3,509.7 L339.8,510.0 L341.3,510.3 L342.7,510.5 L344.2,510.7 L345.7,510.9 L347.2,511.1 L348.6,511.2 L350.1,511.4 L351.6,511.5 L353.1,511.6 L354.6,511.7 L356.1,511.7 L357.6,511.8 L359.0,511.8 L360.5,511.8 L362.0,511.7 L363.5,511.7 L365.0,511.6 L366.5,511.5 L368.0,511.4 L369.5,511.3 L370.9,511.2 L372.4,511.0 L373.9,510.8 L375.4,510.7 L376.9,510.4 L378.3,510.2 L379.8,510.0 L381.3,509.7 L382.8,509.4 L384.2,509.1 L385.7,508.8 L387.2,508.5 L388.6,508.1 L390.1,507.8 L391.5,507.4 L393.0,507.0 L394.4,506.6 L395.9,506.2 L397.3,505.7 L398.7,505.3 L400.2,504.8 L401.6,504.3 L403.0,503.8 L404.4,503.3 L405.9,502.7 L407.3,502.2 L408.7,501.6 L410.1,501.1 L411.5,500.5 L412.8,499.9 L414.2,499.3 L415.6,498.6 L417.0,498.0 L418.3,497.3 L419.7,496.7 L421.0,496.0 L422.4,495.3 L423.7,494.6 L425.0,493.9 L426.3,493.2 L427.7,492.4 L429.0,491.7 L430.3,490.9 L431.6,490.1 L432.8,489.4 L434.1,488.6 L435.4,487.8 L436.6,486.9 L437.9,486.1 L439.1,485.3 L440.4,484.4 L441.6,483.6 L442.9,482.7 L444.1,481.8 L445.3,481.0 L446.5,480.1 L447.7,479.2 L448.9,478.3 L450.1,477.4 L451.3,476.4 L452.5,475.5 L453.7,474.6 L454.8,473.6 L456.0,472.7 L457.2,471.7 L458.3,470.7 L459.5,469.8 L460.6,468.8 L461.8,467.8 L462.9,466.8 L464.1,465.8 L465.2,464.8 L466.3,463.8 L467.4,462.8 L468.6,461.8 L469.7,460.8 L470.8,459.8 L471.9,458.8 L473.0,457.7 L474.1,456.7 L475.2,455.7 L476.3,454.6 L477.4,453.6 L478.5,452.5 L479.6,451.5 L480.7,450.4 L481.8,449.4 L482.8,448.3 L483.9,447.3 L485.0,446.2 L486.1,445.2 L487.1,444.1 L488.2,443.1 L489.3,442.0 L490.4,440.9 L491.4,439.9 L492.5,438.8 L493.6,437.8 L494.6,436.7 L495.7,435.6 L496.8,434.6 L497.8,433.5 L498.9,432.5 L499.9,431.4 L501.0,430.4 L502.0,429.3 L503.1,428.2 L504.1,427.2 L505.2,426.1 L506.2,425.0 L507.3,424.0 L508.3,422.9 L509.4,421.8 L510.4,420.8 L511.4,419.7 L512.4,418.6 L513.5,417.5 L514.5,416.4 L515.5,415.3 L516.5,414.2 L517.5,413.1 L518.5,412.0 L519.5,410.9 L520.5,409.7 L521.4,408.6 L522.4,407.4 L523.4,406.3 L524.4,405.1 L525.3,404.0 L526.3,402.8 L527.2,401.6 L528.1,400.4 L529.1,399.2 L530.0,398.0 L530.9,396.8 Z" fill="#fff"/>
<path d="M633.6,399.7 L634.5,398.5 L635.5,397.4 L636.4,396.2 L637.3,395.1 L638.3,393.9 L639.2,392.7 L640.1,391.6 L641.1,390.4 L642.0,389.2 L642.9,388.1 L643.9,386.9 L644.8,385.7 L645.7,384.6 L646.7,383.4 L647.6,382.2 L648.5,381.1 L649.5,379.9 L650.4,378.7 L651.4,377.6 L652.3,376.4 L653.2,375.2 L654.2,374.1 L655.1,372.9 L656.1,371.8 L657.0,370.6 L658.0,369.4 L658.9,368.3 L659.9,367.1 L660.9,366.0 L661.8,364.8 L662.8,363.6 L663.8,362.5 L664.7,361.3 L665.7,360.2 L666.7,359.0 L667.6,357.9 L668.6,356.8 L669.6,355.6 L670.6,354.5 L671.6,353.3 L672.6,352.2 L673.6,351.1 L674.6,349.9 L675.6,348.8 L676.6,347.7 L677.6,346.6 L678.6,345.4 L679.6,344.3 L680.6,343.2 L681.7,342.1 L682.7,341.0 L683.7,339.9 L684.7,338.8 L685.8,337.7 L686.8,336.6 L687.9,335.5 L688.9,334.4 L690.0,333.4 L691.1,332.3 L692.1,331.2 L693.2,330.1 L694.3,329.1 L695.3,328.0 L696.4,327.0 L697.5,325.9 L698.6,324.9 L699.7,323.8 L700.8,322.8 L701.9,321.7 L703.1,320.7 L704.2,319.7 L705.3,318.7 L706.5,317.7 L707.6,316.7 L708.7,315.7 L709.9,314.7 L711.0,313.7 L712.2,312.7 L713.4,311.7 L714.6,310.8 L715.7,309.8 L716.9,308.8 L718.1,307.9 L719.3,307.0 L720.5,306.0 L721.7,305.1 L722.9,304.2 L724.2,303.3 L725.4,302.4 L726.6,301.6 L727.9,300.7 L729.1,299.8 L730.4,299.0 L731.6,298.2 L732.9,297.3 L734.2,296.5 L735.4,295.7 L736.7,294.9 L738.0,294.2 L739.3,293.4 L740.6,292.7 L741.9,291.9 L743.2,291.2 L744.5,290.5 L745.9,289.8 L747.2,289.1 L748.5,288.4 L749.9,287.8 L751.2,287.2 L752.6,286.5 L754.0,285.9 L755.3,285.3 L756.7,284.8 L758.1,284.2 L759.5,283.7 L760.9,283.1 L762.3,282.6 L763.7,282.1 L765.1,281.7 L766.6,281.2 L768.0,280.8 L769.4,280.3 L770.9,279.9 L772.3,279.6 L773.8,279.2 L775.2,278.8 L776.7,278.5 L778.1,278.2 L779.6,277.9 L781.1,277.6 L782.6,277.3 L784.0,277.1 L785.5,276.9 L787.0,276.6 L788.5,276.5 L790.0,276.3 L791.5,276.1 L793.0,276.0 L794.5,275.9 L795.9,275.8 L797.4,275.7 L798.9,275.6 L800.4,275.6 L801.9,275.6 L803.4,275.5 L804.9,275.6 L806.4,275.6 L807.9,275.6 L809.4,275.7 L810.9,275.8 L812.4,275.9 L813.9,276.0 L815.4,276.2 L816.9,276.3 L818.4,276.5 L819.9,276.7 L821.3,276.9 L822.8,277.2 L824.3,277.4 L825.8,277.7 L827.2,278.0 L828.7,278.3 L830.2,278.7 L831.6,279.0 L833.1,279.4 L834.5,279.8 L836.0,280.2 L837.4,280.7 L838.8,281.1 L840.3,281.6 L841.7,282.1 L843.1,282.6 L844.5,283.1 L845.9,283.7 L847.3,284.3 L848.7,284.8 L850.1,285.5 L851.4,286.1 L852.8,286.7 L854.1,287.4 L855.5,288.1 L856.8,288.8 L858.2,289.5 L859.5,290.2 L860.8,290.9 L862.1,291.7 L863.4,292.5 L864.7,293.3 L866.0,294.1 L867.2,294.9 L868.5,295.8 L869.7,296.6 L871.0,297.5 L872.2,298.4 L873.4,299.3 L874.6,300.2 L875.8,301.1 L876.9,302.1 L878.1,303.1 L879.3,304.0 L880.4,305.0 L881.5,306.0 L882.6,307.1 L883.7,308.1 L884.8,309.2 L885.9,310.2 L887.0,311.3 L888.0,312.4 L889.0,313.5 L890.0,314.6 L891.0,315.7 L892.0,316.9 L893.0,318.0 L894.0,319.2 L894.9,320.4 L895.8,321.6 L896.7,322.8 L897.6,324.0 L898.5,325.2 L899.3,326.4 L900.2,327.7 L901.0,329.0 L901.8,330.2 L902.6,331.5 L903.4,332.8 L904.2,334.1 L904.9,335.4 L905.6,336.7 L906.4,338.0 L907.0,339.4 L907.7,340.7 L908.4,342.1 L909.0,343.4 L909.7,344.8 L910.3,346.2 L910.9,347.5 L911.4,348.9 L912.0,350.3 L912.5,351.7 L913.0,353.1 L913.5,354.6 L914.0,356.0 L914.5,357.4 L915.0,358.8 L915.4,360.3 L915.8,361.7 L916.2,363.2 L916.6,364.6 L916.9,366.1 L917.3,367.6 L917.6,369.0 L917.9,370.5 L918.2,372.0 L918.4,373.4 L918.7,374.9 L918.9,376.4 L919.1,377.9 L919.3,379.4 L919.5,380.9 L919.6,382.4 L919.7,383.9 L919.9,385.4 L919.9,386.9 L920.0,388.4 L920.1,389.9 L920.1,391.4 L920.1,392.9 L920.1,394.4 L920.1,395.9 L920.0,397.4 L920.0,398.9 L919.9,400.4 L919.8,401.9 L919.7,403.4 L919.5,404.9 L919.4,406.4 L919.2,407.9 L919.0,409.4 L918.8,410.9 L918.5,412.4 L918.3,413.8 L918.0,415.3 L917.7,416.8 L917.4,418.3 L917.1,419.7 L916.7,421.2 L916.4,422.7 L916.0,424.1 L915.6,425.6 L915.1,427.0 L914.7,428.5 L914.3,429.9 L913.8,431.3 L913.3,432.8 L912.8,434.2 L912.2,435.6 L911.7,437.0 L911.1,438.4 L910.6,439.8 L910.0,441.2 L909.3,442.5 L908.7,443.9 L908.1,445.3 L907.4,446.6 L906.7,448.0 L906.0,449.3 L905.3,450.6 L904.5,451.9 L903.8,453.2 L903.0,454.5 L902.2,455.8 L901.4,457.1 L900.6,458.3 L899.8,459.6 L898.9,460.8 L898.0,462.0 L897.2,463.3 L896.2,464.5 L895.3,465.7 L894.4,466.8 L893.5,468.0 L892.5,469.2 L891.5,470.3 L890.5,471.4 L889.5,472.6 L888.5,473.7 L887.5,474.8 L886.4,475.8 L885.3,476.9 L884.3,478.0 L883.2,479.0 L882.1,480.0 L881.0,481.0 L879.8,482.0 L878.7,483.0 L877.5,484.0 L876.4,484.9 L875.2,485.9 L874.0,486.8 L872.8,487.7 L871.6,488.6 L870.4,489.5 L869.2,490.3 L867.9,491.2 L866.7,492.0 L865.4,492.8 L864.1,493.6 L862.8,494.4 L861.5,495.2 L860.2,495.9 L858.9,496.6 L857.6,497.4 L856.3,498.1 L854.9,498.7 L853.6,499.4 L852.2,500.0 L850.9,500.7 L849.5,501.3 L848.1,501.8 L846.7,502.4 L845.3,503.0 L843.9,503.5 L842.5,504.0 L841.1,504.5 L839.7,505.0 L838.3,505.4 L836.8,505.9 L835.4,506.3 L833.9,506.7 L832.5,507.1 L831.0,507.5 L829.6,507.8 L828.1,508.1 L826.6,508.5 L825.2,508.8 L823.7,509.0 L822.2,509.3 L820.7,509.5 L819.2,509.8 L817.7,510.0 L816.3,510.2 L814.8,510.3 L813.3,510.5 L811.8,510.6 L810.3,510.8 L808.8,510.9 L807.2,510.9 L805.7,511.0 L804.2,511.1 L802.7,511.1 L801.2,511.1 L799.7,511.1 L798.2,511.1 L796.7,511.1 L795.2,511.0 L793.7,511.0 L792.2,510.9 L790.7,510.8 L789.2,510.7 L787.7,510.5 L786.2,510.4 L784.7,510.2 L783.2,510.0 L781.7,509.8 L780.2,509.6 L778.7,509.4 L777.2,509.1 L775.7,508.9 L774.3,508.6 L772.8,508.3 L771.3,508.0 L769.8,507.7 L768.4,507.3 L766.9,507.0 L765.5,506.6 L764.0,506.2 L762.6,505.8 L761.1,505.4 L759.7,505.0 L758.3,504.5 L756.9,504.0 L755.4,503.6 L754.0,503.1 L752.6,502.6 L751.2,502.0 L749.8,501.5 L748.4,501.0 L747.0,500.4 L745.7,499.8 L744.3,499.2 L742.9,498.6 L741.6,498.0 L740.2,497.4 L738.9,496.8 L737.5,496.1 L736.2,495.4 L734.8,494.8 L733.5,494.1 L732.2,493.4 L730.9,492.6 L729.6,491.9 L728.3,491.2 L727.0,490.4 L725.7,489.7 L724.4,488.9 L723.2,488.1 L721.9,487.3 L720.6,486.5 L719.4,485.7 L718.1,484.9 L716.9,484.0 L715.7,483.2 L714.4,482.3 L713.2,481.4 L712.0,480.6 L710.8,479.7 L709.6,478.8 L708.4,477.9 L707.2,477.0 L706.0,476.1 L704.8,475.1 L703.6,474.2 L702.5,473.2 L701.3,472.3 L700.1,471.3 L699.0,470.4 L697.8,469.4 L696.7,468.4 L695.5,467.4 L694.4,466.4 L693.3,465.4 L692.2,464.4 L691.0,463.4 L689.9,462.4 L688.8,461.3 L687.7,460.3 L686.6,459.3 L685.5,458.2 L684.4,457.2 L683.3,456.1 L682.3,455.0 L681.2,454.0 L680.1,452.9 L679.0,451.8 L678.0,450.8 L676.9,449.7 L675.9,448.6 L674.8,447.5 L673.8,446.4 L672.7,445.3 L671.7,444.2 L670.7,443.1 L669.6,442.0 L668.6,440.9 L667.6,439.7 L666.6,438.6 L665.6,437.5 L664.6,436.4 L663.6,435.3 L662.6,434.1 L661.6,433.0 L660.6,431.9 L659.6,430.7 L658.6,429.6 L657.6,428.4 L656.6,427.3 L655.6,426.2 L654.6,425.0 L653.7,423.9 L652.7,422.7 L651.7,421.6 L650.7,420.4 L649.8,419.3 L648.8,418.1 L647.8,417.0 L646.9,415.8 L645.9,414.7 L645.0,413.5 L644.0,412.3 L643.1,411.2 L642.1,410.0 L641.2,408.9 L640.2,407.7 L639.3,406.6 L638.3,405.4 L637.4,404.3 L636.4,403.1 L635.5,402.0 L634.5,400.8 L633.6,399.7 Z" fill="#fff"/>
<path d="M404.6,283.0 L402.1,281.8 L400.0,281.0 L398.0,280.2 L395.9,279.5 L393.7,278.8 L391.6,278.2 L389.5,277.5 L387.4,276.9 L385.2,276.3 L383.0,275.8 L380.9,275.3 L378.7,274.8 L376.5,274.3 L374.4,273.9 L372.2,273.5 L370.0,273.2 L367.8,272.8 L365.6,272.5 L363.4,272.2 L361.2,272.0 L358.9,271.8 L356.7,271.6 L354.5,271.5 L352.3,271.4 L350.1,271.3 L347.8,271.2 L345.6,271.2 L343.4,271.2 L341.2,271.3 L338.9,271.3 L336.7,271.4 L334.5,271.6 L332.3,271.7 L330.1,271.9 L327.9,272.2 L325.6,272.4 L323.4,272.7 L321.2,273.0 L319.0,273.4 L316.9,273.8 L314.7,274.2 L312.5,274.6 L310.3,275.1 L308.2,275.6 L306.0,276.1 L303.8,276.7 L301.7,277.3 L299.6,277.9 L297.4,278.6 L295.3,279.3 L293.2,280.0 L291.1,280.7 L289.0,281.5 L287.0,282.3 L284.9,283.1 L282.9,284.0 L280.8,284.9 L278.8,285.8 L276.8,286.8 L274.8,287.7 L272.8,288.7 L270.8,289.8 L268.9,290.8 L266.9,291.9 L265.0,293.0 L263.1,294.2 L261.2,295.3 L259.3,296.5 L257.5,297.7 L255.6,299.0 L253.8,300.3 L252.0,301.6 L250.2,302.9 L248.4,304.2 L246.7,305.6 L245.0,307.0 L243.2,308.4 L241.5,309.9 L239.9,311.3 L238.2,312.8 L236.6,314.3 L235.0,315.9 L233.4,317.4 L231.8,319.0 L230.3,320.6 L228.8,322.2 L227.3,323.9 L225.8,325.5 L224.4,327.2 L222.9,328.9 L221.5,330.7 L220.2,332.4 L218.8,334.2 L217.5,336.0 L216.2,337.8 L214.9,339.6 L213.7,341.4 L212.4,343.3 L211.2,345.2 L210.1,347.1 L208.9,349.0 L207.8,350.9 L206.7,352.8 L205.6,354.8 L204.6,356.7 L203.6,358.7 L202.6,360.7 L201.7,362.7 L200.7,364.7 L199.9,366.8 L199.0,368.8 L198.1,370.9 L197.3,373.0 L196.6,375.0 L195.8,377.1 L195.1,379.2 L194.4,381.4 L193.7,383.5 L193.1,385.6 L192.5,387.8 L191.9,389.9 L191.4,392.1 L190.9,394.2 L190.4,396.4 L189.9,398.6 L189.5,400.8 L189.1,402.9 L188.8,405.1 L188.5,407.3 L188.2,409.5 L187.9,411.8 L187.7,414.0 L187.5,416.2 L187.3,418.4 L187.1,420.6 L187.0,422.8 L187.0,425.1 L186.9,427.3 L186.9,429.5 L186.9,431.7 L187.0,434.0 L187.0,436.2 L187.2,438.4 L187.3,440.6 L187.5,442.8 L187.7,445.1 L187.9,447.3 L188.2,449.5 L188.5,451.7 L188.8,453.9 L189.1,456.1 L189.5,458.3 L190.0,460.4 L190.4,462.6 L190.9,464.8 L191.4,467.0 L191.9,469.1 L192.5,471.3 L193.1,473.4 L193.7,475.5 L194.4,477.7 L195.1,479.8 L195.8,481.9 L196.6,484.0 L197.3,486.1 L198.2,488.1 L199.0,490.2 L199.9,492.2 L200.8,494.3 L201.7,496.3 L202.6,498.3 L203.6,500.3 L204.6,502.3 L205.7,504.2 L206.7,506.2 L207.8,508.1 L208.9,510.1 L210.1,512.0 L211.2,513.9 L212.4,515.7 L213.7,517.6 L214.9,519.4 L216.2,521.2 L217.5,523.1 L218.8,524.8 L220.2,526.6 L221.6,528.3 L223.0,530.1 L224.4,531.8 L225.8,533.5 L227.3,535.1 L228.8,536.8 L230.3,538.4 L231.9,540.0 L233.4,541.6 L235.0,543.2 L236.6,544.7 L238.2,546.2 L240.0,547.9 L241.2,548.8 L242.4,549.7 L243.6,550.6 L244.8,551.5 L246.0,552.4 L247.2,553.3 L248.4,554.2 L249.7,555.0 L250.9,555.9 L252.2,556.7 L253.4,557.6 L254.7,558.4 L255.9,559.2 L257.2,560.0 L258.5,560.8 L259.8,561.6 L261.1,562.4 L262.3,563.2 L263.6,563.9 L265.0,564.7 L266.3,565.4 L267.6,566.1 L268.9,566.9 L270.2,567.6 L271.6,568.3 L272.9,568.9 L274.2,569.6 L275.6,570.3 L276.9,570.9 L278.3,571.6 L279.7,572.2 L281.0,572.8 L282.4,573.4 L283.8,574.0 L285.2,574.6 L286.5,575.2 L287.9,575.8 L289.3,576.3 L290.7,576.9 L292.1,577.4 L293.5,577.9 L294.9,578.4 L296.4,578.9 L297.8,579.4 L299.2,579.9 L300.6,580.3 L302.1,580.8 L303.5,581.2 L304.9,581.7 L306.4,582.1 L307.8,582.5 L309.3,582.9 L310.7,583.3 L312.2,583.6 L313.6,584.0 L315.1,584.3 L316.5,584.7 L318.0,585.0 L319.5,585.3 L320.9,585.6 L322.4,585.9 L323.9,586.2 L325.4,586.4 L326.8,586.7 L328.3,587.0 L329.8,587.2 L331.3,587.4 L332.8,587.6 L334.2,587.8 L335.7,588.0 L337.2,588.2 L338.7,588.4 L340.2,588.5 L341.7,588.7 L343.2,588.8 L344.7,588.9 L346.2,589.0 L347.7,589.1 L349.2,589.2 L350.7,589.3 L352.2,589.4 L353.7,589.4 L355.2,589.5 L356.7,589.5 L358.2,589.5 L359.7,589.5 L361.2,589.5 L362.7,589.5 L364.2,589.5 L365.7,589.5 L367.2,589.4 L368.7,589.4 L370.2,589.3 L371.7,589.2 L373.2,589.2 L374.7,589.1 L376.1,589.0 L377.6,588.8 L379.1,588.7 L380.6,588.6 L382.1,588.4 L383.6,588.3 L385.1,588.1 L386.6,587.9 L388.1,587.7 L389.5,587.5 L391.0,587.3 L392.5,587.1 L394.0,586.8 L395.5,586.6 L396.9,586.3 L398.4,586.0 L399.9,585.8 L401.3,585.5 L402.8,585.2 L404.3,584.9 L405.7,584.5 L407.2,584.2 L408.6,583.9 L410.1,583.5 L411.5,583.1 L413.0,582.8 L414.4,582.4 L415.9,582.0 L417.3,581.6 L418.7,581.1 L420.1,580.7 L421.6,580.3 L423.0,579.8 L424.4,579.4 L425.8,578.9 L427.2,578.4 L428.6,577.9 L430.1,577.4 L431.5,576.9 L432.9,576.4 L434.3,575.9 L435.6,575.3 L437.0,574.8 L438.4,574.2 L439.8,573.7 L441.2,573.1 L442.6,572.5 L443.9,571.9 L445.3,571.3 L446.7,570.7 L448.0,570.1 L449.4,569.5 L450.7,568.9 L452.1,568.2 L453.5,567.6 L454.8,566.9 L456.1,566.2 L457.5,565.6 L458.8,564.9 L460.2,564.2 L461.5,563.5 L462.8,562.8 L464.1,562.1 L465.4,561.3 L466.8,560.6 L468.1,559.9 L469.4,559.1 L470.7,558.4 L472.0,557.6 L473.3,556.8 L474.6,556.1 L475.9,555.3 L477.2,554.5 L478.5,553.7 L479.7,552.9 L481.0,552.1 L482.3,551.3 L483.6,550.5 L484.8,549.6 L486.1,548.8 L487.4,548.0 L488.6,547.1 L489.9,546.3 L491.1,545.4 L492.4,544.5 L493.6,543.7 L494.9,542.8 L496.1,541.9 L497.3,541.0 L498.6,540.1 L499.8,539.2 L501.0,538.3 L502.2,537.4 L503.4,536.5 L504.7,535.6 L505.9,534.6 L507.1,533.7 L508.3,532.8 L509.5,531.8 L510.7,530.9 L511.9,529.9 L513.0,529.0 L514.2,528.0 L515.4,527.0 L516.6,526.1 L517.8,525.1 L518.9,524.1 L520.1,523.1 L521.2,522.1 L522.4,521.1 L523.6,520.1 L524.7,519.1 L525.9,518.1 L527.0,517.1 L528.1,516.1 L529.3,515.1 L530.4,514.1 L531.5,513.1 L532.7,512.0 L533.8,511.0 L534.9,510.0 L536.0,508.9 L537.1,507.9 L538.2,506.9 L539.3,505.8 L540.4,504.8 L541.5,503.7 L542.6,502.7 L543.7,501.6 L544.8,500.5 L545.9,499.5 L546.9,498.4 L548.0,497.4 L549.1,496.3 L550.1,495.2 L551.2,494.1 L552.3,493.1 L553.3,492.0 L554.4,490.9 L555.4,489.8 L556.5,488.8 L557.5,487.7 L558.5,486.6 L559.6,485.5 L560.6,484.4 L561.6,483.3 L562.6,482.2 L563.6,481.1 L564.6,480.1 L565.7,479.0 L566.7,477.9 L567.7,476.8 L568.6,475.7 L569.6,474.6 L570.6,473.5 L571.6,472.4 L572.6,471.3 L573.6,470.2 L574.5,469.1 L575.5,468.0 L576.5,466.9 L577.4,465.8 L578.4,464.7 L579.3,463.6 L580.3,462.5 L581.2,461.4 L582.2,460.3 L583.1,459.2 L633.6,399.7 L634.5,398.5 L635.5,397.4 L636.4,396.2 L637.3,395.1 L638.3,393.9 L639.2,392.7 L640.1,391.6 L641.1,390.4 L642.0,389.2 L642.9,388.1 L643.9,386.9 L644.8,385.7 L645.7,384.6 L646.7,383.4 L647.6,382.2 L648.5,381.1 L649.5,379.9 L650.4,378.7 L651.4,377.6 L652.3,376.4 L653.2,375.2 L654.2,374.1 L655.1,372.9 L656.1,371.8 L657.0,370.6 L658.0,369.4 L658.9,368.3 L659.9,367.1 L660.9,366.0 L661.8,364.8 L662.8,363.6 L663.8,362.5 L664.7,361.3 L665.7,360.2 L666.7,359.0 L667.6,357.9 L668.6,356.8 L669.6,355.6 L670.6,354.5 L671.6,353.3 L672.6,352.2 L673.6,351.1 L674.6,349.9 L675.6,348.8 L676.6,347.7 L677.6,346.6 L678.6,345.4 L679.6,344.3 L680.6,343.2 L681.7,342.1 L682.7,341.0 L683.7,339.9 L684.7,338.8 L685.8,337.7 L686.8,336.6 L687.9,335.5 L688.9,334.4 L690.0,333.4 L691.1,332.3 L692.1,331.2 L693.2,330.1 L694.3,329.1 L695.3,328.0 L696.4,327.0 L697.5,325.9 L698.6,324.9 L699.7,323.8 L700.8,322.8 L701.9,321.7 L703.1,320.7 L704.2,319.7 L705.3,318.7 L706.5,317.7 L707.6,316.7 L708.7,315.7 L709.9,314.7 L711.0,313.7 L712.2,312.7 L713.4,311.7 L714.6,310.8 L715.7,309.8 L716.9,308.8 L718.1,307.9 L719.3,307.0 L720.5,306.0 L721.7,305.1 L722.9,304.2 L724.2,303.3 L725.4,302.4 L726.6,301.6 L727.9,300.7 L729.1,299.8 L730.4,299.0 L731.6,298.2 L732.9,297.3 L734.2,296.5 L735.4,295.7 L736.7,294.9 L738.0,294.2 L739.3,293.4 L740.6,292.7 L741.9,291.9 L743.2,291.2 L744.5,290.5 L745.9,289.8 L747.2,289.1 L748.5,288.4 L749.9,287.8 L751.2,287.2 L752.6,286.5 L754.0,285.9 L755.3,285.3 L756.7,284.8 L758.1,284.2 L759.5,283.7 L760.9,283.1 L762.3,282.6 L763.7,282.1 L765.1,281.7 L766.6,281.2 L768.0,280.8 L769.4,280.3 L770.9,279.9 L772.3,279.6 L773.8,279.2 L775.2,278.8 L776.7,278.5 L778.1,278.2 L779.6,277.9 L781.1,277.6 L782.6,277.3 L784.0,277.1 L785.5,276.9 L787.0,276.6 L788.5,276.5 L790.0,276.3 L791.5,276.1 L793.0,276.0 L794.5,275.9 L795.9,275.8 L797.4,275.7 L798.9,275.6 L800.4,275.6 L801.9,275.6 L803.4,275.5 L804.9,275.6 L806.4,275.6 L807.9,275.6 L809.4,275.7 L810.9,275.8 L812.4,275.9 L813.9,276.0 L815.4,276.2 L816.9,276.3 L818.4,276.5 L819.9,276.7 L821.3,276.9 L822.8,277.2 L824.3,277.4 L825.8,277.7 L827.2,278.0 L828.7,278.3 L830.2,278.7 L831.6,279.0 L833.1,279.4 L834.5,279.8 L836.0,280.2 L837.4,280.7 L838.8,281.1 L840.3,281.6 L841.7,282.1 L843.1,282.6 L844.5,283.1 L845.9,283.7 L847.3,284.3 L848.7,284.8 L850.1,285.5 L851.4,286.1 L852.8,286.7 L854.1,287.4 L855.5,288.1 L856.8,288.8 L858.2,289.5 L859.5,290.2 L860.8,290.9 L862.1,291.7 L863.4,292.5 L864.7,293.3 L866.0,294.1 L867.2,294.9 L868.5,295.8 L869.7,296.6 L871.0,297.5 L872.2,298.4 L873.4,299.3 L874.6,300.2 L875.8,301.1 L876.9,302.1 L878.1,303.1 L879.3,304.0 L880.4,305.0 L881.5,306.0 L882.6,307.1 L883.7,308.1 L884.8,309.2 L885.9,310.2 L887.0,311.3 L888.0,312.4 L889.0,313.5 L890.0,314.6 L891.0,315.7 L892.0,316.9 L893.0,318.0 L894.0,319.2 L894.9,320.4 L895.8,321.6 L896.7,322.8 L897.6,324.0 L898.5,325.2 L899.3,326.4 L900.2,327.7 L901.0,329.0 L901.8,330.2 L902.6,331.5 L903.4,332.8 L904.2,334.1 L904.9,335.4 L905.6,336.7 L906.4,338.0 L907.0,339.4 L907.7,340.7 L908.4,342.1 L909.0,343.4 L909.7,344.8 L910.3,346.2 L910.9,347.5 L911.4,348.9 L912.0,350.3 L912.5,351.7 L913.0,353.1 L913.5,354.6 L914.0,356.0 L914.5,357.4 L915.0,358.8 L915.4,360.3 L915.8,361.7 L916.2,363.2 L916.6,364.6 L916.9,366.1 L917.3,367.6 L917.6,369.0 L917.9,370.5 L918.2,372.0 L918.4,373.4 L918.7,374.9 L918.9,376.4 L919.1,377.9 L919.3,379.4 L919.5,380.9 L919.6,382.4 L919.7,383.9 L919.9,385.4 L919.9,386.9 L920.0,388.4 L920.1,389.9 L920.1,391.4 L920.1,392.9 L920.1,394.4 L920.1,395.9 L920.0,397.4 L920.0,398.9 L919.9,400.4 L919.8,401.9 L919.7,403.4 L919.5,404.9 L919.4,406.4 L919.2,407.9 L919.0,409.4 L918.8,410.9 L918.5,412.4 L918.3,413.8 L918.0,415.3 L917.7,416.8 L917.4,418.3 L917.1,419.7 L916.7,421.2 L916.4,422.7 L916.0,424.1 L915.6,425.6 L915.1,427.0 L914.7,428.5 L914.3,429.9 L913.8,431.3 L913.3,432.8 L912.8,434.2 L912.2,435.6 L911.7,437.0 L911.1,438.4 L910.6,439.8 L910.0,441.2 L909.3,442.5 L908.7,443.9 L908.1,445.3 L907.4,446.6 L906.7,448.0 L906.0,449.3 L905.3,450.6 L904.5,451.9 L903.8,453.2 L903.0,454.5 L902.2,455.8 L901.4,457.1 L900.6,458.3 L899.8,459.6 L898.9,460.8 L898.0,462.0 L897.2,463.3 L896.2,464.5 L895.3,465.7 L894.4,466.8 L893.5,468.0 L892.5,469.2 L891.5,470.3 L890.5,471.4 L889.5,472.6 L888.5,473.7 L887.5,474.8 L886.4,475.8 L885.3,476.9 L884.3,478.0 L883.2,479.0 L882.1,480.0 L881.0,481.0 L879.8,482.0 L878.7,483.0 L877.5,484.0 L876.4,484.9 L875.2,485.9 L874.0,486.8 L872.8,487.7 L871.6,488.6 L870.4,489.5 L869.2,490.3 L867.9,491.2 L866.7,492.0 L865.4,492.8 L864.1,493.6 L862.8,494.4 L861.5,495.2 L860.2,495.9 L858.9,496.6 L857.6,497.4 L856.3,498.1 L854.9,498.7 L853.6,499.4 L852.2,500.0 L850.9,500.7 L849.5,501.3 L848.1,501.8 L846.7,502.4 L845.3,503.0 L843.9,503.5 L842.5,504.0 L841.1,504.5 L839.7,505.0 L838.3,505.4 L836.8,505.9 L835.4,506.3 L833.9,506.7 L832.5,507.1 L831.0,507.5 L829.6,507.8 L828.1,508.1 L826.6,508.5 L825.2,508.8 L823.7,509.0 L822.2,509.3 L820.7,509.5 L819.2,509.8 L817.7,510.0 L816.3,510.2 L814.8,510.3 L817.6,510.2 L819.7,510.1 L821.8,509.9 L823.9,509.7 L826.0,509.5 L828.0,509.2 L830.1,508.9 L832.2,508.6 L834.3,508.3 L836.4,507.9 L838.5,507.5 L840.5,507.1 L842.6,506.6 L844.6,506.2 L846.7,505.6 L848.7,505.1 L850.8,504.5 L852.8,504.0 L854.8,503.3 L856.8,502.7 L858.8,502.0 L860.8,501.3 L862.8,500.6 L864.8,499.8 L866.7,499.1 L868.7,498.3 L870.6,497.4 L872.5,496.6 L874.4,495.7 L876.3,494.8 L878.2,493.8 L880.1,492.9 L882.0,491.9 L883.8,490.9 L885.7,489.8 L887.5,488.8 L889.3,487.7 L891.1,486.6 L892.9,485.4 L894.6,484.3 L896.4,483.1 L898.1,481.9 L899.8,480.7 L901.5,479.4 L903.2,478.1 L904.9,476.8 L906.5,475.5 L908.1,474.2 L909.7,472.8 L911.3,471.4 L912.9,470.0 L914.5,468.6 L916.0,467.1 L917.5,465.7 L919.0,464.2 L920.5,462.7 L921.9,461.1 L923.4,459.6 L924.8,458.0 L926.2,456.4 L927.5,454.8 L928.9,453.2 L930.2,451.6 L931.5,449.9 L932.8,448.2 L934.0,446.5 L935.3,444.8 L936.5,443.1 L937.6,441.3 L938.8,439.6 L939.9,437.8 L941.1,436.0 L942.2,434.2 L943.2,432.4 L944.3,430.5 L945.3,428.7 L946.3,426.8 L947.2,424.9 L948.2,423.1 L949.1,421.2 L950.0,419.2 L950.8,417.3 L951.7,415.4 L952.5,413.4 L953.3,411.5 L954.0,409.5 L954.7,407.5 L955.4,405.5 L956.1,403.5 L956.8,401.5 L957.4,399.5 L958.0,397.5 L958.6,395.5 L959.1,393.4 L959.6,391.4 L960.1,389.3 L960.5,387.3 L961.0,385.2 L961.4,383.1 L961.7,381.0 L962.1,379.0 L962.4,376.9 L962.7,374.8 L962.9,372.7 L963.2,370.6 L963.4,368.5 L963.6,366.4 L963.7,364.3 L963.8,362.2 L963.9,360.1 L964.0,358.0 L964.0,355.9 L964.0,353.7 L964.0,351.6 L963.9,349.5 L963.8,347.4 L963.7,345.3 L963.6,343.2 L963.4,341.1 L963.2,339.0 L963.0,336.9 L962.7,334.8 L962.5,332.7 L962.1,330.6 L961.8,328.6 L961.4,326.5 L961.0,324.4 L960.6,322.3 L960.2,320.3 L959.7,318.2 L959.2,316.2 L958.7,314.1 L958.1,312.1 L957.5,310.1 L956.9,308.1 L956.2,306.0 L955.6,304.0 L954.9,302.1 L954.2,300.1 L953.4,298.1 L952.6,296.1 L951.8,294.2 L951.0,292.3 L950.1,290.3 L949.2,288.4 L948.3,286.5 L947.4,284.6 L946.4,282.7 L945.5,280.9 L944.5,279.0 L943.4,277.2 L942.4,275.4 L941.3,273.5 L940.2,271.7 L939.0,270.0 L937.9,268.2 L936.7,266.5 L935.5,264.7 L934.3,263.0 L933.0,261.3 L931.7,259.6 L930.4,258.0 L929.1,256.3 L927.8,254.7 L926.4,253.1 L925.0,251.5 L923.6,249.9 L922.2,248.4 L920.7,246.8 L919.3,245.3 L917.8,243.8 L916.3,242.3 L914.8,240.9 L913.2,239.5 L911.6,238.0 L910.1,236.7 L908.4,235.3 L906.8,233.9 L905.2,232.6 L903.5,231.3 L901.8,230.0 L900.1,228.8 L898.4,227.5 L896.7,226.3 L895.0,225.1 L893.2,224.0 L891.4,222.8 L889.6,221.7 L887.8,220.6 L886.0,219.6 L884.2,218.5 L882.3,217.5 L880.5,216.5 L878.6,215.5 L876.7,214.6 L874.8,213.7 L872.9,212.8 L871.0,211.9 L869.0,211.1 L867.1,210.3 L865.1,209.5 L863.2,208.7 L861.2,208.0 L859.2,207.3 L857.2,206.6 L855.2,206.0 L853.2,205.4 L851.1,204.8 L849.1,204.2 L847.1,203.7 L845.0,203.1 L843.0,202.7 L840.9,202.2 L838.9,201.8 L836.8,201.4 L834.7,201.0 L832.6,200.6 L830.5,200.3 L829.1,198.9 L827.6,198.8 L826.1,198.6 L824.6,198.4 L823.1,198.3 L821.6,198.1 L820.1,198.0 L818.6,197.9 L817.1,197.7 L815.6,197.6 L814.1,197.6 L812.6,197.5 L811.1,197.4 L809.6,197.3 L808.1,197.3 L806.6,197.3 L805.1,197.2 L803.6,197.2 L802.1,197.2 L800.6,197.2 L799.1,197.3 L797.6,197.3 L796.1,197.3 L794.6,197.4 L793.1,197.5 L791.6,197.5 L790.1,197.6 L788.6,197.7 L787.1,197.8 L785.6,198.0 L784.1,198.1 L782.6,198.2 L781.1,198.4 L779.6,198.6 L778.1,198.7 L776.6,198.9 L775.2,199.1 L773.7,199.3 L772.2,199.6 L770.7,199.8 L769.2,200.0 L767.8,200.3 L766.3,200.6 L764.8,200.8 L763.3,201.1 L761.9,201.4 L760.4,201.7 L759.0,202.1 L757.5,202.4 L756.1,202.7 L754.6,203.1 L753.2,203.5 L751.7,203.8 L750.3,204.2 L748.8,204.6 L747.4,205.0 L746.0,205.5 L744.5,205.9 L743.1,206.3 L741.7,206.8 L740.3,207.2 L738.9,207.7 L737.5,208.2 L736.1,208.7 L734.7,209.2 L733.3,209.7 L731.9,210.2 L730.5,210.8 L729.1,211.3 L727.7,211.9 L726.3,212.4 L724.9,213.0 L723.6,213.6 L722.2,214.2 L720.8,214.8 L719.5,215.4 L718.1,216.0 L716.7,216.6 L715.4,217.3 L714.0,217.9 L712.7,218.6 L711.4,219.2 L710.0,219.9 L708.7,220.6 L707.4,221.3 L706.0,222.0 L704.7,222.7 L703.4,223.4 L702.1,224.1 L700.8,224.9 L699.5,225.6 L698.2,226.4 L696.9,227.1 L695.6,227.9 L694.3,228.7 L693.0,229.4 L691.7,230.2 L690.5,231.0 L689.2,231.8 L687.9,232.6 L686.7,233.5 L685.4,234.3 L684.2,235.1 L682.9,236.0 L681.7,236.8 L680.4,237.7 L679.2,238.5 L677.9,239.4 L676.7,240.3 L675.5,241.1 L674.3,242.0 L673.1,242.9 L671.9,243.8 L670.6,244.7 L669.4,245.7 L668.3,246.6 L667.1,247.5 L665.9,248.4 L664.7,249.4 L663.5,250.3 L662.3,251.3 L661.2,252.2 L660.0,253.2 L658.8,254.2 L657.7,255.1 L656.5,256.1 L655.4,257.1 L654.2,258.1 L653.1,259.1 L652.0,260.1 L650.8,261.1 L649.7,262.1 L648.6,263.1 L647.5,264.1 L646.3,265.1 L645.2,266.2 L644.1,267.2 L643.0,268.2 L641.9,269.3 L640.8,270.3 L639.7,271.4 L638.6,272.4 L637.5,273.5 L636.4,274.5 L635.4,275.6 L634.3,276.6 L633.2,277.7 L632.1,278.8 L631.1,279.9 L630.0,280.9 L628.9,282.0 L627.9,283.1 L626.8,284.2 L625.8,285.3 L624.7,286.4 L623.7,287.4 L622.6,288.5 L621.6,289.6 L620.5,290.7 L619.5,291.8 L618.5,292.9 L617.4,294.0 L616.4,295.2 L615.4,296.3 L614.4,297.4 L613.3,298.5 L612.3,299.6 L611.3,300.7 L610.3,301.8 L609.3,302.9 L608.3,304.1 L607.2,305.2 L606.2,306.3 L605.2,307.4 L604.2,308.5 L603.2,309.7 L602.2,310.8 L601.2,311.9 L600.2,313.0 L599.2,314.1 L598.2,315.3 L597.2,316.4 L596.3,317.5 L595.3,318.6 L594.3,319.7 L593.3,320.9 L592.3,322.0 L591.3,323.1 L590.4,324.2 L589.4,325.3 L588.4,326.4 L587.4,327.5 L586.4,328.7 L585.5,329.8 L584.5,330.9 L583.5,332.0 L582.5,333.1 L581.6,334.2 L580.6,335.3 L530.9,396.8 L530.0,398.0 L529.1,399.2 L528.1,400.4 L527.2,401.6 L526.3,402.8 L525.3,404.0 L524.4,405.1 L523.4,406.3 L522.4,407.4 L521.4,408.6 L520.5,409.7 L519.5,410.9 L518.5,412.0 L517.5,413.1 L516.5,414.2 L515.5,415.3 L514.5,416.4 L513.5,417.5 L512.4,418.6 L511.4,419.7 L510.4,420.8 L509.4,421.8 L508.3,422.9 L507.3,424.0 L506.2,425.0 L505.2,426.1 L504.1,427.2 L503.1,428.2 L502.0,429.3 L501.0,430.4 L499.9,431.4 L498.9,432.5 L497.8,433.5 L496.8,434.6 L495.7,435.6 L494.6,436.7 L493.6,437.8 L492.5,438.8 L491.4,439.9 L490.4,440.9 L489.3,442.0 L488.2,443.1 L487.1,444.1 L486.1,445.2 L485.0,446.2 L483.9,447.3 L482.8,448.3 L481.8,449.4 L480.7,450.4 L479.6,451.5 L478.5,452.5 L477.4,453.6 L476.3,454.6 L475.2,455.7 L474.1,456.7 L473.0,457.7 L471.9,458.8 L470.8,459.8 L469.7,460.8 L468.6,461.8 L467.4,462.8 L466.3,463.8 L465.2,464.8 L464.1,465.8 L462.9,466.8 L461.8,467.8 L460.6,468.8 L459.5,469.8 L458.3,470.7 L457.2,471.7 L456.0,472.7 L454.8,473.6 L453.7,474.6 L452.5,475.5 L451.3,476.4 L450.1,477.4 L448.9,478.3 L447.7,479.2 L446.5,480.1 L445.3,481.0 L444.1,481.8 L442.9,482.7 L441.6,483.6 L440.4,484.4 L439.1,485.3 L437.9,486.1 L436.6,486.9 L435.4,487.8 L434.1,488.6 L432.8,489.4 L431.6,490.1 L430.3,490.9 L429.0,491.7 L427.7,492.4 L426.3,493.2 L425.0,493.9 L423.7,494.6 L422.4,495.3 L421.0,496.0 L419.7,496.7 L418.3,497.3 L417.0,498.0 L415.6,498.6 L414.2,499.3 L412.8,499.9 L411.5,500.5 L410.1,501.1 L408.7,501.6 L407.3,502.2 L405.9,502.7 L404.4,503.3 L403.0,503.8 L401.6,504.3 L400.2,504.8 L398.7,505.3 L397.3,505.7 L395.9,506.2 L394.4,506.6 L393.0,507.0 L391.5,507.4 L390.1,507.8 L388.6,508.1 L387.2,508.5 L385.7,508.8 L384.2,509.1 L382.8,509.4 L381.3,509.7 L379.8,510.0 L378.3,510.2 L376.9,510.4 L375.4,510.7 L373.9,510.8 L372.4,511.0 L370.9,511.2 L369.5,511.3 L368.0,511.4 L366.5,511.5 L365.0,511.6 L363.5,511.7 L362.0,511.7 L360.5,511.8 L359.0,511.8 L357.6,511.8 L356.1,511.7 L354.6,511.7 L353.1,511.6 L351.6,511.5 L350.1,511.4 L348.6,511.2 L347.2,511.1 L345.7,510.9 L344.2,510.7 L342.7,510.5 L341.3,510.3 L339.8,510.0 L338.3,509.7 L336.8,509.4 L335.4,509.1 L333.9,508.8 L332.5,508.4 L331.0,508.0 L329.6,507.6 L328.1,507.2 L326.7,506.7 L325.2,506.3 L323.8,505.8 L322.4,505.3 L321.0,504.8 L319.5,504.3 L318.1,503.7 L316.7,503.1 L315.3,502.5 L314.0,501.9 L312.6,501.3 L311.2,500.7 L309.8,500.0 L308.5,499.3 L307.1,498.6 L305.8,497.9 L304.5,497.2 L303.1,496.5 L301.8,495.7 L300.5,494.9 L299.2,494.1 L297.9,493.3 L296.7,492.5 L295.4,491.6 L294.2,490.8 L292.9,489.9 L291.7,489.0 L290.5,488.1 L289.3,487.2 L288.1,486.3 L286.9,485.3 L285.7,484.3 L284.5,483.4 L283.4,482.4 L282.3,481.4 L281.1,480.4 L280.0,479.3 L278.9,478.3 L277.9,477.2 L276.8,476.1 L275.8,475.0 L274.7,473.9 L273.7,472.8 L272.7,471.7 L271.7,470.6 L270.7,469.4 L269.8,468.2 L268.8,467.1 L267.9,465.9 L267.0,464.7 L266.1,463.5 L265.2,462.3 L264.4,461.0 L263.5,459.8 L262.7,458.5 L261.9,457.3 L261.1,456.0 L260.3,454.7 L259.5,453.4 L258.8,452.1 L258.0,450.8 L257.3,449.5 L256.6,448.2 L255.9,446.8 L255.3,445.5 L254.6,444.1 L254.0,442.8 L253.4,441.4 L252.8,440.0 L252.2,438.6 L251.6,437.3 L251.1,435.9 L250.5,434.5 L250.0,433.1 L249.5,431.6 L249.0,430.2 L248.6,428.8 L248.1,427.4 L247.7,425.9 L247.3,424.5 L246.9,423.0 L246.6,421.6 L246.2,420.1 L245.9,418.7 L245.6,417.2 L245.3,415.7 L245.0,414.3 L244.7,412.8 L244.5,411.3 L244.3,409.8 L244.1,408.3 L243.9,406.9 L243.7,405.4 L243.6,403.9 L243.5,402.4 L243.3,400.9 L243.3,399.4 L243.2,397.9 L243.2,396.4 L243.1,394.9 L243.1,393.4 L243.1,391.9 L243.2,390.4 L243.2,388.9 L243.3,387.4 L243.4,385.9 L243.5,384.4 L243.6,382.9 L243.7,381.4 L243.9,379.9 L244.1,378.4 L244.3,376.9 L244.5,375.4 L244.7,373.9 L245.0,372.5 L245.3,371.0 L245.6,369.5 L245.9,368.0 L246.2,366.6 L246.6,365.1 L246.9,363.6 L247.3,362.2 L247.7,360.7 L248.1,359.3 L248.6,357.8 L249.0,356.4 L249.5,355.0 L250.0,353.5 L250.5,352.1 L251.0,350.7 L251.6,349.3 L252.2,347.9 L252.7,346.5 L253.3,345.1 L254.0,343.8 L254.6,342.4 L255.2,341.0 L255.9,339.7 L256.6,338.3 L257.3,337.0 L258.0,335.7 L258.7,334.4 L259.5,333.1 L260.3,331.8 L261.0,330.5 L261.9,329.2 L262.7,328.0 L263.5,326.7 L264.4,325.5 L265.2,324.2 L266.1,323.0 L267.0,321.8 L267.9,320.6 L268.9,319.4 L269.8,318.3 L270.8,317.1 L271.8,315.9 L272.7,314.8 L273.8,313.7 L274.8,312.6 L275.8,311.5 L276.9,310.4 L277.9,309.3 L279.0,308.3 L280.1,307.2 L281.2,306.2 L282.3,305.2 L283.5,304.2 L284.6,303.2 L285.7,302.2 L286.9,301.3 L288.1,300.3 L289.3,299.4 L290.5,298.5 L291.7,297.6 L292.9,296.7 L294.2,295.8 L295.4,295.0 L296.7,294.2 L297.9,293.3 L299.2,292.5 L300.5,291.7 L301.8,291.0 L303.1,290.2 L304.4,289.5 L305.7,288.8 L307.1,288.1 L308.4,287.4 L309.8,286.7 L311.1,286.0 L312.5,285.4 L313.8,284.8 L315.2,284.2 L316.6,283.6 L318.0,283.0 L319.4,282.5 L320.8,282.0 L322.2,281.4 L323.6,280.9 L325.1,280.5 L326.5,280.0 L327.9,279.6 L329.4,279.2 L330.8,278.8 L332.3,278.4 L333.7,278.0 L335.2,277.7 L336.7,277.4 L338.1,277.1 L339.6,276.8 L341.1,276.5 L342.6,276.3 L344.0,276.1 L345.5,275.9 L347.0,275.7 L348.5,275.5 L350.0,275.4 L351.5,275.3 L353.0,275.2 L354.5,275.1 L356.0,275.0 L357.5,274.9 L359.0,274.9 L360.5,274.9 L362.0,274.9 L363.5,274.9 L365.0,275.0 L366.5,275.0 L368.0,275.1 L369.5,275.2 L371.0,275.3 L372.5,275.5 L374.0,275.6 L375.5,275.8 L377.0,276.0 L378.5,276.2 L379.9,276.4 L381.4,276.7 L382.9,276.9 L384.4,277.2 L385.9,277.5 L387.3,277.8 L388.8,278.2 L390.3,278.5 L391.7,278.9 L393.2,279.3 L394.6,279.7 L396.1,280.1 L397.5,280.6 L398.9,281.0 L400.4,281.5 L401.8,282.0 L403.2,282.5 L404.6,283.0 Z" fill="#0190B9"/>
</svg>
<div class="t h" style="left:443.7px;top:153.1px;font-size:34.93px;letter-spacing:0.07px;">Delivery Pipeline</div>
<div class="t h" style="left:459.1px;top:596.0px;font-size:34.64px;letter-spacing:-0.40px;">Feedback Loop</div>
<div class="t big" style="left:283.4px;top:347.1px;font-size:93.77px;letter-spacing:0.03px;">Dev</div>
<div class="t big" style="left:697.7px;top:347.7px;font-size:93.1px;transform-origin:0 0;transform:scaleX(0.939);">O</div>
<div class="t big" style="left:767.5px;top:347.7px;font-size:93.1px;transform-origin:0 0;transform:scaleX(0.972);">p</div>
<div class="t big" style="left:823.9px;top:347.7px;font-size:93.1px;transform-origin:0 0;transform:scaleX(0.889);">s</div>
<div class="t lb" style="left:320.9px;top:225.9px;font-size:24.57px;letter-spacing:-0.21px;">Plan</div>
<div class="t lb" style="left:747.4px;top:225.9px;font-size:23.77px;letter-spacing:-0.14px;">Release</div>
<div class="t lb" style="left:536.4px;top:378.9px;font-size:23.91px;letter-spacing:-0.46px;">Package</div>
<div class="t lb" style="left:311.8px;top:538.8px;font-size:24.64px;letter-spacing:0.37px;">Verify</div>
<div class="t lb" style="left:746.0px;top:539.4px;font-size:23.77px;letter-spacing:0.79px;">Monitor</div>
<div class="t lb rot" style="left:182.4px;top:434.5px;font-size:24.79px;letter-spacing:0.11px;">Create</div>
<div class="t lb rot" style="left:928.9px;top:448.2px;font-size:25.07px;letter-spacing:-0.67px;">Configure</div>
</body></html>
